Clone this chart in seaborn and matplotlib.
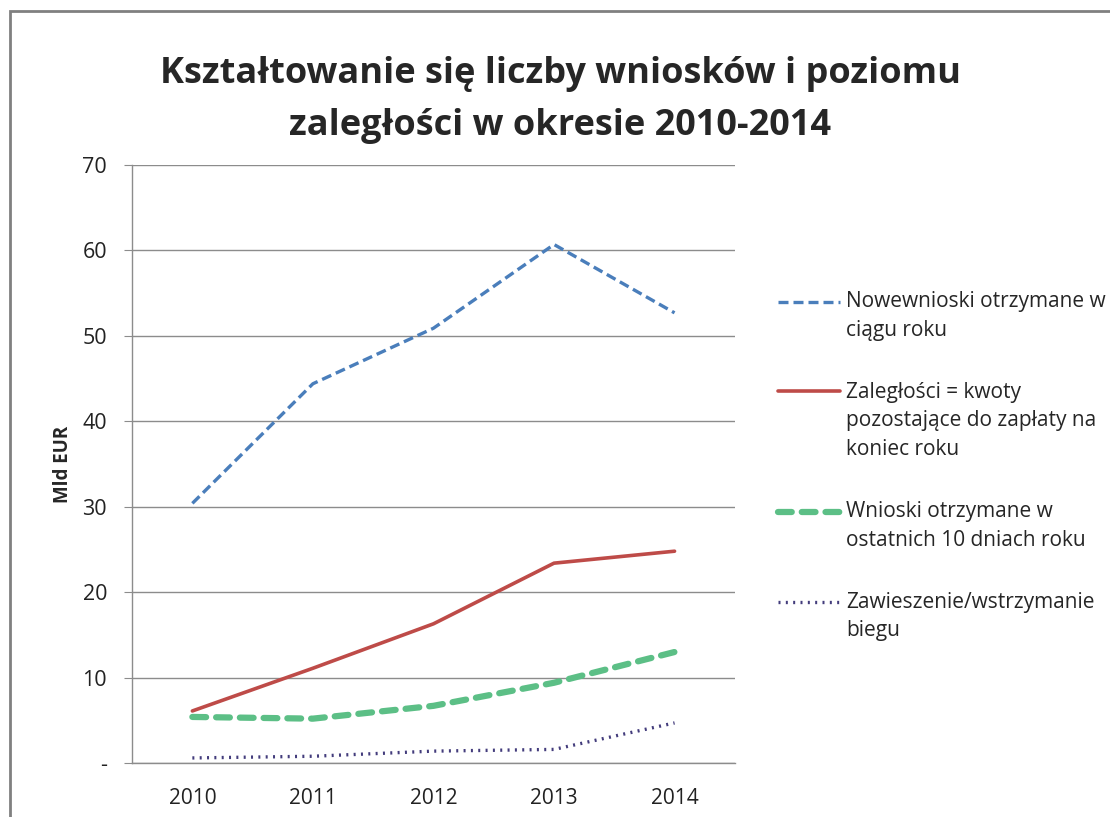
import pandas as pd

import matplotlib.pyplot as plt
import seaborn as sns
from matplotlib.patches import Rectangle

years = ['2010', '2011', '2012', '2013', '2014']
new_requests = [30.4, 44.4, 50.9, 60.7, 52.7]
arrears = [6.1, 11.1, 16.3, 23.4, 24.8]
late_requests = [5.4, 5.2, 6.7, 9.4, 13.0]
suspended = [0.6, 0.8, 1.4, 1.6, 4.7]

labels = [
  'Nowewnioski otrzymane w\nciągu roku',
  'Zaległości = kwoty\npozostające do zapłaty na\nkoniec roku',
  'Wnioski otrzymane w\nostatnich 10 dniach roku',
  'Zawieszenie/wstrzymanie\nbiegu',
]
y_ticks = [0, 10, 20, 30, 40, 50, 60, 70]
y_tick_labels = ['-', '10', '20', '30', '40', '50', '60', '70']

sns.set_style('white')
plt.rcParams['font.family'] = ['Open Sans', 'DejaVu Sans']

fig = plt.figure(figsize=(11.1, 8.17), dpi=100)
ax = fig.add_axes([0.119, 0.066, 0.543, 0.732])

styles = [
  dict(color='#4a7ebb', linestyle=(0, (3, 1.5)), linewidth=2.4),
  dict(color='#be4b48', linestyle='-', linewidth=2.6),
  dict(color='#5cbf86', linestyle=(0, (2.2, 1.6)), linewidth=4.5, dash_capstyle='round'),
  dict(color='#433c7c', linestyle=(0, (0.6, 1.6)), linewidth=2.4),
]
series = [new_requests, arrears, late_requests, suspended]

for values, label, style in zip(series, labels, styles):
  df = pd.DataFrame({'year': years, 'value': values})
  sns.lineplot(data=df, x='year', y='value', ax=ax, label=label, **style)

ax.set_xlim(-0.5, 4.5)
ax.set_ylim(0, 70)
ax.set_yticks(y_ticks)
ax.set_yticklabels(y_tick_labels)
ax.yaxis.grid(True, color='#8c8c8c', linewidth=1)
ax.set_axisbelow(True)
ax.tick_params(axis='y', length=6, color='#8c8c8c', labelsize=15.5, pad=12)
ax.tick_params(axis='x', length=0, labelsize=15, pad=18)
ax.tick_params(axis='both', left=True, labelcolor='#222222')

for side in ['top', 'right']:
  ax.spines[side].set_visible(False)
for side in ['left', 'bottom']:
  ax.spines[side].set_color('#8c8c8c')
  ax.spines[side].set_linewidth(1)

ax.set_xlabel('')
ax.set_ylabel('Mld EUR', fontsize=13.5, fontweight='bold', labelpad=7)

fig.text(0.505, 0.878, 'Kształtowanie się liczby wniosków i poziomu\nzaległości w okresie 2010-2014',
         ha='center', va='center', fontsize=26, fontweight='bold', linespacing=1.6)

leg_size = 15
leg = ax.legend(
  loc='upper left', bbox_to_anchor=(1.04, 0.82), frameon=False,
  fontsize=leg_size, handlelength=3.0, handletextpad=0.3, labelspacing=2.0,
)
# put each handle beside the first line of its label, as in the original
for line, text in zip(leg.get_lines(), leg.get_texts()):
  text.set_linespacing(1.45)
  n_extra = text.get_text().count('\n')
  line.set_ydata([y + n_extra * 1.45 * leg_size / 2 for y in line.get_ydata()])

fig.patches.append(Rectangle((0.009, -0.01), 1.1, 0.996, transform=fig.transFigure,
                             fill=False, edgecolor='#808080', linewidth=2))

fig.savefig('out.png', dpi=100)
